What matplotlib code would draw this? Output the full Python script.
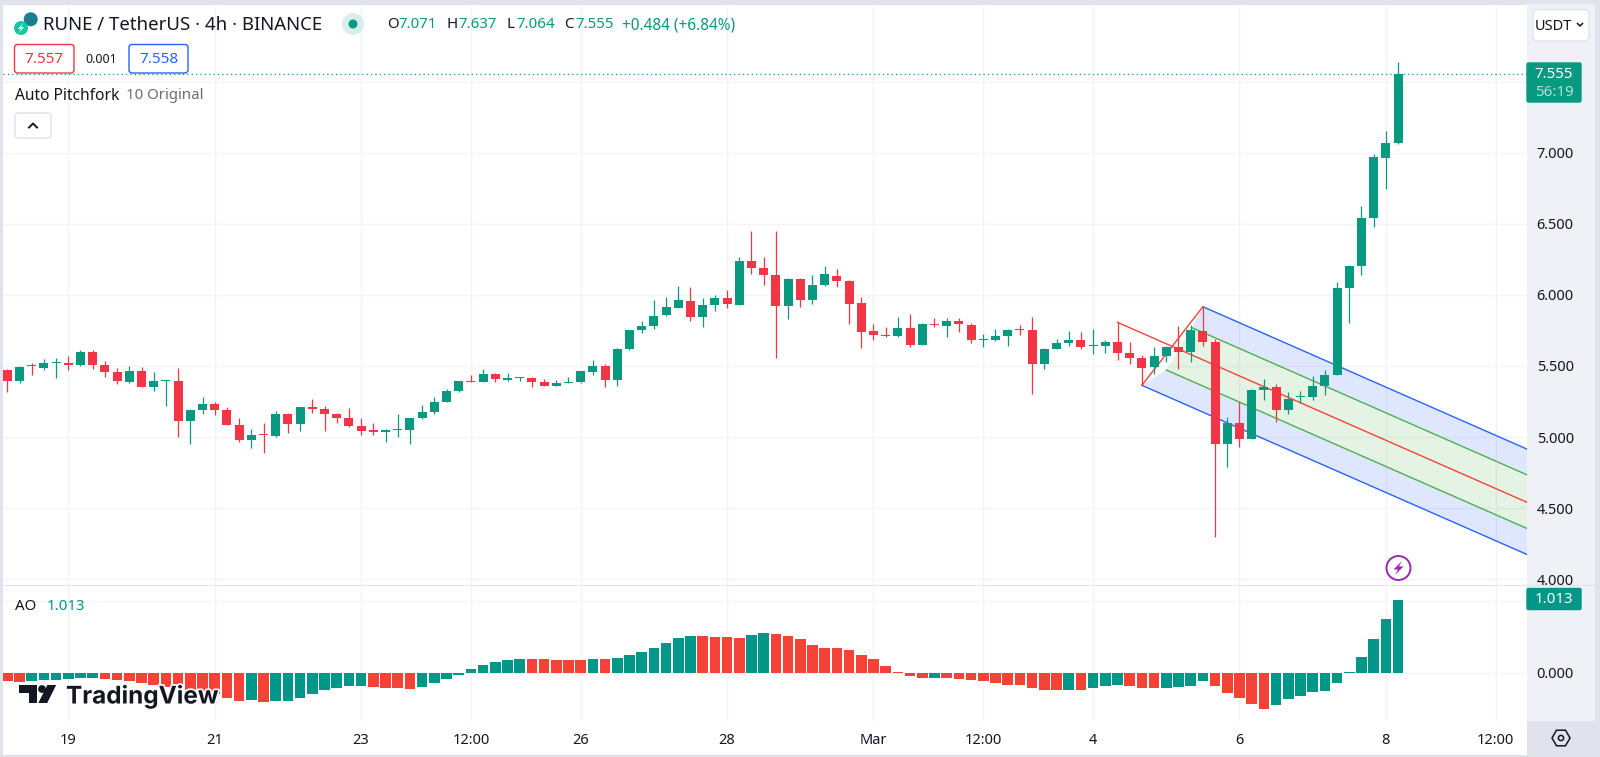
import numpy as np
import matplotlib
matplotlib.use("Agg")
import matplotlib.pyplot as plt
import matplotlib.patheffects as pe
from matplotlib.patches import Circle, FancyBboxPatch, Polygon, Rectangle, RegularPolygon

plt.rcParams["font.family"] = ["Noto Sans", "DejaVu Sans"]

W, H = 1600, 757

# Velas de 4h (RUNE/USDT)
opens = [
    5.470, 5.397, 5.505, 5.486, 5.521, 5.524, 5.510, 5.599, 5.507, 5.458,
    5.390, 5.465, 5.352, 5.392, 5.392, 5.113, 5.193, 5.233, 5.193, 5.088,
    4.980, 5.024, 5.008, 5.163, 5.095, 5.212, 5.200, 5.163, 5.132, 5.078,
    5.048, 5.036, 5.050, 5.050, 5.132, 5.177, 5.250, 5.325, 5.397, 5.390,
    5.442, 5.400, 5.418, 5.418, 5.388, 5.362, 5.378, 5.385, 5.460, 5.500,
    5.402, 5.618, 5.751, 5.782, 5.857, 5.910, 5.960, 5.847, 5.929, 5.978,
    5.932, 6.239, 6.189, 6.138, 5.925, 6.112, 5.964, 6.070, 6.130, 6.098,
    5.941, 5.744, 5.721, 5.709, 5.765, 5.648, 5.798, 5.782, 5.814, 5.791,
    5.683, 5.683, 5.711, 5.760, 5.751, 5.517, 5.620, 5.660, 5.683, 5.639,
    5.641, 5.671, 5.592, 5.554, 5.491, 5.568, 5.636, 5.596, 5.748, 5.669,
    4.949, 5.099, 4.984, 5.333, 5.350, 5.193, 5.282, 5.282, 5.359, 5.439,
    6.048, 6.203, 6.538, 6.965, 7.071,
]
closes = [
    5.397, 5.495, 5.498, 5.524, 5.528, 5.510, 5.601, 5.507, 5.458, 5.392,
    5.465, 5.352, 5.392, 5.399, 5.113, 5.193, 5.233, 5.193, 5.088, 4.977,
    5.017, 5.017, 5.163, 5.095, 5.210, 5.200, 5.163, 5.132, 5.078, 5.045,
    5.034, 5.048, 5.057, 5.132, 5.177, 5.249, 5.325, 5.392, 5.390, 5.442,
    5.407, 5.416, 5.425, 5.390, 5.362, 5.381, 5.385, 5.463, 5.498, 5.402,
    5.618, 5.751, 5.782, 5.852, 5.913, 5.964, 5.847, 5.929, 5.978, 5.934,
    6.239, 6.189, 6.138, 5.925, 6.112, 5.967, 6.070, 6.148, 6.095, 5.936,
    5.742, 5.718, 5.709, 5.765, 5.648, 5.798, 5.786, 5.814, 5.793, 5.681,
    5.690, 5.711, 5.756, 5.751, 5.517, 5.622, 5.660, 5.685, 5.636, 5.646,
    5.671, 5.594, 5.556, 5.489, 5.568, 5.636, 5.596, 5.753, 5.671, 4.949,
    5.099, 4.987, 5.331, 5.352, 5.193, 5.270, 5.289, 5.362, 5.437, 6.048,
    6.203, 6.538, 6.970, 7.071, 7.555,
]
highs = [
    5.477, 5.500, 5.519, 5.549, 5.554, 5.570, 5.613, 5.613, 5.535, 5.484,
    5.500, 5.491, 5.460, 5.399, 5.486, 5.195, 5.282, 5.249, 5.210, 5.132,
    5.057, 5.097, 5.181, 5.172, 5.210, 5.270, 5.219, 5.172, 5.202, 5.132,
    5.097, 5.055, 5.163, 5.132, 5.226, 5.280, 5.336, 5.392, 5.437, 5.477,
    5.451, 5.451, 5.425, 5.423, 5.411, 5.402, 5.425, 5.463, 5.540, 5.517,
    5.627, 5.751, 5.814, 5.962, 5.986, 6.063, 6.056, 5.978, 5.997, 6.035,
    6.267, 6.450, 6.267, 6.450, 6.117, 6.122, 6.140, 6.200, 6.180, 6.105,
    5.983, 5.798, 5.774, 5.845, 5.866, 5.800, 5.838, 5.838, 5.838, 5.805,
    5.725, 5.758, 5.758, 5.786, 5.845, 5.624, 5.688, 5.749, 5.739, 5.758,
    5.683, 5.807, 5.669, 5.578, 5.632, 5.643, 5.782, 5.788, 5.917, 5.692,
    5.144, 5.247, 5.336, 5.411, 5.373, 5.315, 5.326, 5.432, 5.472, 6.091,
    6.208, 6.627, 6.991, 7.152, 7.637,
]
lows = [
    5.315, 5.378, 5.437, 5.472, 5.413, 5.472, 5.500, 5.479, 5.425, 5.374,
    5.383, 5.350, 5.324, 5.221, 5.001, 4.954, 5.165, 5.153, 5.083, 4.968,
    4.926, 4.891, 4.999, 5.027, 5.041, 5.172, 5.041, 5.099, 5.074, 5.015,
    5.017, 4.968, 4.999, 4.952, 5.128, 5.160, 5.245, 5.317, 5.390, 5.388,
    5.388, 5.397, 5.395, 5.353, 5.360, 5.360, 5.378, 5.383, 5.439, 5.353,
    5.357, 5.613, 5.735, 5.758, 5.852, 5.908, 5.817, 5.777, 5.887, 5.906,
    5.927, 6.145, 6.072, 5.559, 5.828, 5.913, 5.936, 6.065, 6.058, 5.796,
    5.627, 5.683, 5.702, 5.707, 5.636, 5.648, 5.777, 5.707, 5.742, 5.660,
    5.636, 5.678, 5.643, 5.721, 5.303, 5.479, 5.617, 5.643, 5.622, 5.582,
    5.594, 5.542, 5.514, 5.364, 5.444, 5.528, 5.477, 5.530, 5.640, 4.295,
    4.787, 4.928, 4.984, 5.261, 5.108, 5.162, 5.242, 5.261, 5.294, 5.437,
    5.800, 6.140, 6.480, 6.747, 7.064,
]

# Awesome Oscillator
ao_values = [
    -0.110, -0.120, -0.110, -0.101, -0.097, -0.078, -0.064, -0.064, -0.078, -0.097,
    -0.115, -0.143, -0.170, -0.189, -0.202, -0.235, -0.248, -0.294, -0.350, -0.386,
    -0.373, -0.396, -0.391, -0.391, -0.350, -0.290, -0.239, -0.207, -0.184, -0.184,
    -0.198, -0.207, -0.212, -0.221, -0.189, -0.143, -0.087, -0.023, 0.051, 0.110,
    0.152, 0.184, 0.189, 0.189, 0.189, 0.179, 0.179, 0.179, 0.189, 0.189,
    0.202, 0.248, 0.294, 0.340, 0.414, 0.483, 0.511, 0.511, 0.501, 0.492,
    0.478, 0.529, 0.552, 0.534, 0.511, 0.465, 0.386, 0.340, 0.340, 0.317,
    0.253, 0.189, 0.097, 0.014, -0.037, -0.064, -0.064, -0.074, -0.083, -0.092,
    -0.110, -0.133, -0.161, -0.170, -0.202, -0.230, -0.239, -0.230, -0.235, -0.202,
    -0.179, -0.170, -0.179, -0.202, -0.212, -0.202, -0.198, -0.184, -0.110, -0.184,
    -0.276, -0.350, -0.432, -0.501, -0.437, -0.363, -0.313, -0.262, -0.244, -0.133,
    0.014, 0.216, 0.469, 0.750, 1.013,
]
ao_colors = (
    "rr" + "g" * 6 + "r" * 12 + "g" + "r" + "g" * 8 + "r" * 4 + "g" * 9 + "r" * 5
    + "g" + "r" + "g" * 7 + "r" * 4 + "gg" + "r" * 13 + "g" + "r" * 10 + "g" + "r"
    + "g" * 3 + "r" * 3 + "g" * 4 + "r" * 5 + "g" * 11
)

# Auto Pitchfork: inicio de cada linea y valor al final del grafico
fork_names = ["upper", "upper_mid", "median", "lower_mid", "lower"]
fork_start_x = [98, 97.1, 91, 95, 93]
fork_start_y = [5.917, 5.770, 5.807, 5.472, 5.364]
fork_end_x = 125
fork_end_y = [4.899, 4.718, 4.525, 4.341, 4.158]

price_ticks = [4.0, 4.5, 5.0, 5.5, 6.0, 6.5, 7.0, 7.5]
price_labels = ["4.000", "4.500", "5.000", "5.500", "6.000", "6.500", "7.000", ""]
ao_ticks = [0.0, 1.0]
ao_labels = ["0.000", ""]
time_ticks = [5, 17, 29, 38, 47, 59, 71, 80, 89, 101, 113, 122]
time_labels = ["19", "21", "23", "12:00", "26", "28", "Mar", "12:00", "4", "6", "8", "12:00"]

GREEN = "#089981"
RED = "#F23645"
AO_GREEN = "#009688"
AO_RED = "#F44336"
GRID = "#F3F4F7"
BG = "#E0E3EB"
STRIP = "#EFF1F6"
TEXT = "#131722"


def px_axes(fig, left, top, right, bottom, **kw):
    return fig.add_axes(
        [left / W, 1 - bottom / H, (right - left) / W, (bottom - top) / H], **kw
    )


fig = plt.figure(figsize=(W / 100, H / 100), dpi=100, facecolor=BG)

# fondos: strip derecho y fila del eje de tiempo
back = px_axes(fig, 0, 0, W, H, zorder=0)
back.set_xlim(0, W)
back.set_ylim(H, 0)
back.axis("off")
back.add_patch(Rectangle((1527, 4), 68, 717, color=STRIP, lw=0))
back.add_patch(Rectangle((3, 721), 1524, 34, color="white", lw=0))

idx = np.arange(len(opens))
opens = np.array(opens)
closes = np.array(closes)
up = closes >= opens
colors = np.where(up, GREEN, RED)

# Panel de precio
ax = px_axes(fig, 3, 5, 1527, 585, zorder=1)
ax.set_xlim((3 - 7.3) / 12.2, (1527 - 7.3) / 12.2)
ax.set_ylim(7 - (585 - 152.7) / 142.2, 7 + (152.7 - 5) / 142.2)
ax.set_yticks(price_ticks)
ax.set_yticklabels(price_labels)
ax.set_xticks(time_ticks)
ax.tick_params(axis="x", length=0, labelbottom=False)
ax.yaxis.tick_right()
ax.tick_params(axis="y", length=0, pad=7, labelsize=10.5, labelcolor=TEXT)
ax.grid(True, color=GRID, lw=1)
ax.set_axisbelow(True)
for s in ax.spines.values():
    s.set_visible(False)

# Pitchfork: rellenos y lineas
fork_colors = ["#2962FF", "#4CAF50", "#F44336", "#4CAF50", "#2962FF"]
up_i, um_i, me_i, lm_i, lo_i = 0, 1, 2, 3, 4
ax.fill(
    [fork_start_x[up_i], fork_end_x, fork_end_x, fork_start_x[um_i]],
    [fork_start_y[up_i], fork_end_y[up_i], fork_end_y[um_i], fork_start_y[um_i]],
    color="#2962FF", alpha=0.15, lw=0, zorder=1,
)
ax.fill(
    [fork_start_x[um_i], fork_end_x, fork_end_x, fork_start_x[lm_i]],
    [fork_start_y[um_i], fork_end_y[um_i], fork_end_y[lm_i], fork_start_y[lm_i]],
    color="#4CAF50", alpha=0.15, lw=0, zorder=1,
)
ax.fill(
    [fork_start_x[lm_i], fork_end_x, fork_end_x, fork_start_x[lo_i]],
    [fork_start_y[lm_i], fork_end_y[lm_i], fork_end_y[lo_i], fork_start_y[lo_i]],
    color="#2962FF", alpha=0.15, lw=0, zorder=1,
)
for i in range(len(fork_names)):
    ax.plot([fork_start_x[i], fork_end_x], [fork_start_y[i], fork_end_y[i]],
            color=fork_colors[i], lw=1.0, zorder=2)
# mango rojo entre pivotes
ax.plot([fork_start_x[lo_i], fork_start_x[up_i]], [fork_start_y[lo_i], fork_start_y[up_i]],
        color="#F44336", lw=1.0, zorder=2)

# Velas
ax.vlines(idx, lows, highs, colors=colors, lw=0.9, zorder=3)
body_low = np.minimum(opens, closes)
body_h = np.maximum(np.abs(closes - opens), 0.008)
ax.bar(idx, body_h, bottom=body_low, width=0.74, color=colors, lw=0, zorder=4)

# Precio actual
ax.axhline(closes[-1], color=GREEN, ls=(0, (1, 2.5)), lw=0.9, zorder=5)

# Panel AO
ao_ax = px_axes(fig, 3, 586, 1527, 721, zorder=2, sharex=ax)
ao_ax.set_ylim((673 - 721) / 72.5, (673 - 586) / 72.5)
ao_ax.bar(idx, ao_values, width=0.86, lw=0,
          color=[AO_GREEN if c == "g" else AO_RED for c in ao_colors], zorder=3)
ao_ax.set_yticks(ao_ticks)
ao_ax.set_yticklabels(ao_labels)
ao_ax.yaxis.tick_right()
ao_ax.tick_params(axis="y", length=0, pad=7, labelsize=10.5, labelcolor=TEXT)
ao_ax.set_xticks(time_ticks)
ao_ax.set_xticklabels(time_labels)
ao_ax.tick_params(axis="x", length=0, pad=9, labelsize=10.5, labelcolor=TEXT, labelbottom=True)
ao_ax.get_xticklabels()[6].set_fontweight("bold")
ao_ax.grid(True, color=GRID, lw=1)
ao_ax.set_axisbelow(True)
for s in ao_ax.spines.values():
    s.set_visible(False)
ao_ax.add_patch(Rectangle((1, 0), 68 / 1524, 1, transform=ao_ax.transAxes, color=STRIP,
                          lw=0, clip_on=False, zorder=0))

# Capa con coordenadas en pixeles para textos y adornos
top = px_axes(fig, 0, 0, W, H, zorder=3)
top.set_xlim(0, W)
top.set_ylim(H, 0)
top.axis("off")
top.patch.set_alpha(0)

top.add_patch(Rectangle((1527, 721), 73, 36, color=BG, lw=0))
top.add_patch(Rectangle((3, 585), 1592, 1.4, color=BG, lw=0))


def label(x, y, s, color=TEXT, size=10.5, ha="left", **kw):
    return top.text(x, y + 1, s, color=color, fontsize=size, ha=ha, va="center", **kw)


def box(x0, y0, x1, y1, face, edge, rad=3):
    top.add_patch(FancyBboxPatch((x0 + rad, y0 + rad), x1 - x0 - 2 * rad, y1 - y0 - 2 * rad,
                                 boxstyle=f"round,pad={rad},rounding_size={rad}",
                                 fc=face, ec=edge, lw=1))


# Encabezado
top.add_patch(Circle((30.7, 19.3), 7, color="#1B7F8E", lw=0))
top.add_patch(Circle((21, 28), 7, color="#12C9A6", lw=0))
top.add_patch(Polygon([(23, 23), (18, 29), (21, 29), (19, 33), (24, 27), (21, 27)], color="white", lw=0))
label(43, 24, "RUNE / TetherUS · 4h · BINANCE", size=13.4)
top.add_patch(Circle((353, 24), 11, color="#D9EFEB", lw=0))
top.add_patch(Circle((353, 24), 4.5, color=GREEN, lw=0))
label(387, 24, "O", size=10.8)
label(398, 24, "7.071", GREEN, 10.8)
label(446, 24, "H", size=10.8)
label(458, 24, "7.637", GREEN, 10.8)
label(507, 24, "L", size=10.8)
label(516, 24, "7.064", GREEN, 10.8)
label(564, 24, "C", size=10.8)
label(575, 24, "7.555", GREEN, 10.8)
label(622, 24, "+0.484 (+6.84%)", GREEN, 11.1)

box(14.5, 44.5, 74, 73, "white", RED)
label(44.3, 58.5, "7.557", RED, 11, ha="center")
label(101, 58.5, "0.001", size=9, ha="center")
box(129, 44.5, 188, 73, "white", "#2962FF")
label(158.5, 58.5, "7.558", "#2962FF", 11, ha="center")

label(15, 94.5, "Auto Pitchfork", size=11.2)
label(126, 94.5, "10 Original", "#6A6D78", 10.8)
box(15, 113, 51, 138, "white", BG)
top.plot([29, 33, 37], [127.5, 123.5, 127.5], color=TEXT, lw=1.4)

# USDT y etiquetas de precio
box(1533, 9.5, 1589, 41, "white", BG, rad=5)
label(1553, 25, "USDT", size=10.5, ha="center")
top.plot([1577.5, 1580, 1582.5], [23.5, 26, 23.5], color=TEXT, lw=1.1)

box(1527, 63, 1581, 102, GREEN, GREEN, rad=1.5)
label(1554, 73.5, "7.555", "white", 10.8, ha="center")
label(1554, 91.5, "56:19", "#B5E0D8", 10.8, ha="center")
box(1527, 588.5, 1581, 609.5, AO_GREEN, AO_GREEN, rad=1.5)
label(1554, 598.5, "1.013", "white", 10.8, ha="center")

label(15, 605.5, "AO", size=10.8)
label(46.5, 605.5, "1.013", AO_GREEN, 10.8)

# Rayo morado
top.add_patch(Circle((1398.5, 568), 12, fc="white", ec="#9C27B0", lw=1.4))
top.add_patch(Polygon([(1402, 561), (1393.5, 569.5), (1398, 569.5), (1395, 575), (1403.5, 566.5), (1399, 566.5)],
                      color="#9C27B0", lw=0))

# Logo TradingView
halo = [pe.withStroke(linewidth=2.5, foreground="white")]
logo_color = "#131722"
for pts in (
    [(18.6, 685), (37, 685), (37, 703), (29, 703), (29, 693), (18.6, 693)],
    [(47.5, 685), (56, 685), (47, 703), (38.5, 703)],
):
    p = Polygon(pts, color=logo_color, lw=0)
    p.set_path_effects(halo + [pe.Normal()])
    top.add_patch(p)
top.add_patch(Circle((42, 689), 3.9, color=logo_color, lw=0))
top.text(66, 696, "TradingView", color=logo_color, fontsize=17.5, fontweight="bold",
         ha="left", va="center", family=["Inter", "DejaVu Sans"], path_effects=halo)

# Icono de ajustes
top.add_patch(RegularPolygon((1561, 738), 6, radius=9, orientation=np.pi / 6,
                             fc="none", ec=TEXT, lw=1.1))
top.add_patch(Circle((1561, 738), 2.6, fc="none", ec=TEXT, lw=1.1))

fig.savefig("out.png", dpi=100, facecolor=fig.get_facecolor())
plt.close(fig)
